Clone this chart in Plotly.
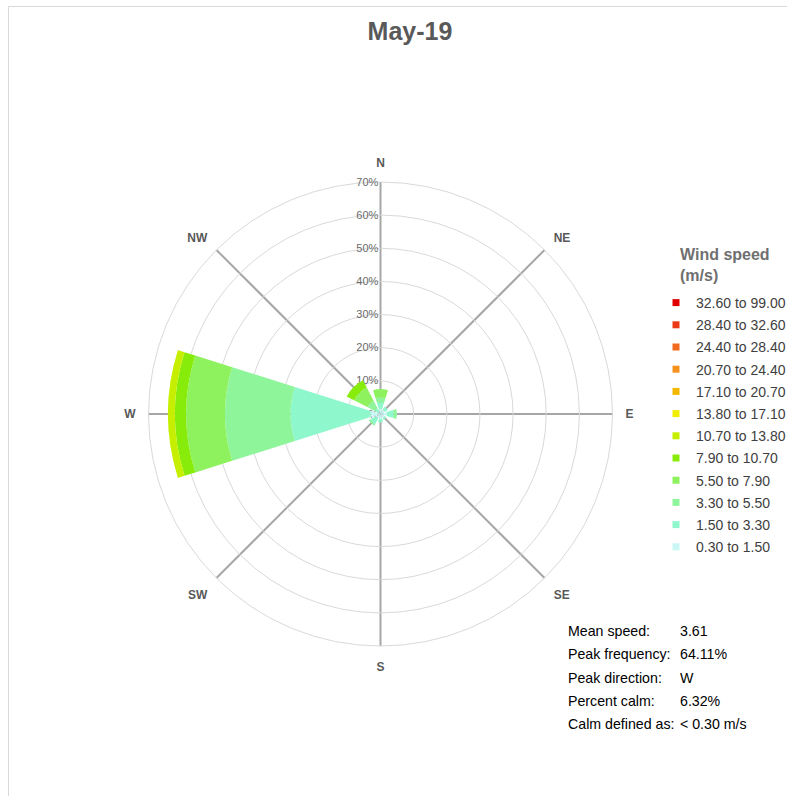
import plotly.graph_objects as go

# ---------------- data ----------------
directions = ["N", "NE", "E", "SE", "S", "SW", "W", "NW"]
speed_bins = ["0.30 to 1.50", "1.50 to 3.30", "3.30 to 5.50", "5.50 to 7.90",
              "7.90 to 10.70", "10.70 to 13.80", "13.80 to 17.10", "17.10 to 20.70",
              "20.70 to 24.40", "24.40 to 28.40", "28.40 to 32.60", "32.60 to 99.00"]
bin_colors = ["#c9f7f5", "#8ff7cc", "#8ff59a", "#8ef25e", "#88ec0a", "#c6ef00",
              "#f2ee00", "#f5b800", "#f5921e", "#f26a1e", "#ec3a14", "#e00000"]
# frequency (%) per direction for each speed bin (order follows `directions`)
freq = {
    "0.30 to 1.50":   [1.5, 1.5, 2.0, 1.5, 1.5, 1.5, 3.1, 0.5],
    "1.50 to 3.30":   [2.0, 1.0, 2.0, 0.5, 1.0, 2.0, 24.0, 1.5],
    "3.30 to 5.50":   [1.5, 0.0, 1.0, 0.0, 0.0, 0.5, 19.8, 2.5],
    "5.50 to 7.90":   [2.5, 0.0, 0.0, 0.0, 0.0, 0.0, 11.7, 4.5],
    "7.90 to 10.70":  [0.0, 0.0, 0.0, 0.0, 0.0, 0.0, 3.4, 2.5],
    "10.70 to 13.80": [0.0, 0.0, 0.0, 0.0, 0.0, 0.0, 2.1, 0.0],
    "13.80 to 17.10": [0.0] * 8,
    "17.10 to 20.70": [0.0] * 8,
    "20.70 to 24.40": [0.0] * 8,
    "24.40 to 28.40": [0.0] * 8,
    "28.40 to 32.60": [0.0] * 8,
    "32.60 to 99.00": [0.0] * 8,
}
radial_ticks = [0, 10, 20, 30, 40, 50, 60, 70]
stats_labels = ["Mean speed:", "Peak frequency:", "Peak direction:", "Percent calm:", "Calm defined as:"]
stats_values = ["3.61", "64.11%", "W", "6.32%", "< 0.30 m/s"]
title_text = "May-19"

# ---------------- figure ----------------
W, H = 787, 796
FONT = "Arial, Liberation Sans, sans-serif"
angles = [i * 360 / len(directions) for i in range(len(directions))]

fig = go.Figure()
for name, col in zip(speed_bins, bin_colors):
    fig.add_trace(go.Barpolar(
        r=freq[name], theta=angles, width=35, name=name,
        marker=dict(color=col, line=dict(width=0)),
        showlegend=False, hoverinfo="name+r",
    ))
# legend proxies (small squares) in reverse order
for name, col in zip(speed_bins[::-1], bin_colors[::-1]):
    fig.add_trace(go.Scatterpolar(
        r=[None], theta=[None], mode="markers", name=name, legendgroup=name,
        marker=dict(symbol="square", size=7, color=col), showlegend=True,
    ))

cx, cy, R = 380.5, 414, 232
fig.update_layout(
    width=W, height=H,
    margin=dict(l=0, r=0, t=0, b=0, autoexpand=False),
    paper_bgcolor="white", plot_bgcolor="white",
    font=dict(family=FONT, color="#595959"),
    title=dict(text="<b>" + title_text + "</b>", x=410 / W, xanchor="center",
               y=1 - 31 / H, yanchor="middle", font=dict(size=25, color="#595959")),
    polar=dict(
        domain=dict(x=[(cx - R) / W, (cx + R) / W], y=[1 - (cy + R) / H, 1 - (cy - R) / H]),
        bgcolor="white",
        barmode="stack",
        radialaxis=dict(range=[0, 70], tickvals=radial_ticks,
                        ticktext=[f"{v}%" for v in radial_ticks],
                        angle=90, side="counterclockwise", tickangle=90,
                        showline=False, ticks="", gridcolor="#d9d9d9", gridwidth=1,
                        tickfont=dict(size=11, color="#6a6a6a"), layer="below traces"),
        angularaxis=dict(direction="clockwise", rotation=90, tickvals=angles,
                         ticktext=[f"<b>{d}</b>" for d in directions],
                         showline=True, linecolor="#d9d9d9", linewidth=1,
                         gridcolor="#a6a6a6", gridwidth=1.5, ticks="outside", ticklen=10,
                         tickcolor="rgba(0,0,0,0)",
                         tickfont=dict(size=12, color="#595959", family=FONT),
                         layer="below traces"),
    ),
    legend=dict(x=656 / W, xanchor="left", y=1 - 287 / H, yanchor="top",
                xref="container", yref="container",
                font=dict(size=14, color="#404040"), tracegroupgap=1,
                bgcolor="rgba(0,0,0,0)", itemclick=False),
)

annotations = [
    dict(text="<b>Wind speed<br>(m/s)</b>", x=678 / W, y=1 - 244 / H, xref="paper", yref="paper",
         xanchor="left", yanchor="top", align="left", showarrow=False,
         font=dict(size=16, color="#6f6f6f")),
]
for i, (lab, val) in enumerate(zip(stats_labels, stats_values)):
    yy = 1 - (631 + i * 23.3) / H
    annotations.append(dict(text=lab, x=566 / W, y=yy, xref="paper", yref="paper",
                            xanchor="left", yanchor="middle", showarrow=False,
                            font=dict(size=14.2, color="#000000")))
    annotations.append(dict(text=val, x=678 / W, y=yy, xref="paper", yref="paper",
                            xanchor="left", yanchor="middle", showarrow=False,
                            font=dict(size=14.2, color="#000000")))
fig.update_layout(annotations=annotations)

# chart-area border (top and left edges visible)
fig.add_shape(type="line", xref="paper", yref="paper", x0=8.5 / W, x1=1, y0=1 - 6.5 / H, y1=1 - 6.5 / H,
              line=dict(color="#d9d9d9", width=1))
fig.add_shape(type="line", xref="paper", yref="paper", x0=8.5 / W, x1=8.5 / W, y0=0, y1=1 - 6.5 / H,
              line=dict(color="#d9d9d9", width=1))

fig.write_html("out.html", config={"displayModeBar": False},
               post_script="document.body.style.margin='0';document.body.style.overflow='hidden';")
